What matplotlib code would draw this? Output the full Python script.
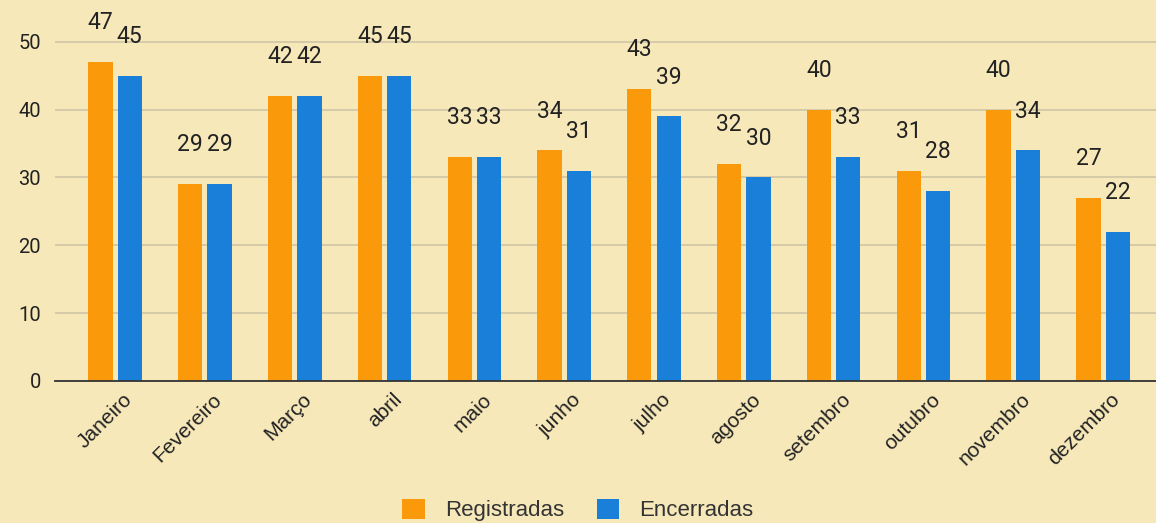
import numpy as np
import matplotlib.pyplot as plt
import matplotlib.transforms as mtransforms

# Data
meses = ["Janeiro", "Fevereiro", "Março", "abril", "maio", "junho", "julho",
         "agosto", "setembro", "outubro", "novembro", "dezembro"]
registradas = [47, 29, 42, 45, 33, 34, 43, 32, 40, 31, 40, 27]
encerradas = [45, 29, 42, 45, 33, 31, 39, 30, 33, 28, 34, 22]

bg = "#F7E8BA"
laranja = "#FA9A0A"
azul = "#1A7FD9"

plt.rcParams["font.family"] = ["Roboto", "DejaVu Sans"]

fig = plt.figure(figsize=(11.56, 5.23), dpi=100, facecolor=bg)
ax = fig.add_axes([55 / 1156, 1 - 381 / 523, 1 - 55 / 1156, (381 - 20) / 523])
ax.set_facecolor(bg)

x = np.arange(len(meses))
w = 0.27
off = 0.163
b1 = ax.bar(x - off, registradas, w, color=laranja, label="Registradas", zorder=3)
b2 = ax.bar(x + off, encerradas, w, color=azul, label="Encerradas", zorder=3)

for bars, vals in [(b1, registradas), (b2, encerradas)]:
    for b, v in zip(bars, vals):
        ax.annotate(str(v), (b.get_x() + b.get_width() / 2, v),
                    xytext=(0, 20), textcoords="offset points",
                    ha="center", va="bottom", fontsize=16.5, color="#222222")

ax.set_xlim(-0.67, 11.59)
ax.set_ylim(0, 53.2)
ax.set_yticks([0, 10, 20, 30, 40, 50])
ax.tick_params(axis="y", length=0, labelsize=14.5, labelcolor="#222222", pad=10)
ax.tick_params(axis="x", length=0, labelsize=15, labelcolor="#222222", pad=4)
ax.set_xticks(x)
ax.set_xticklabels(meses, rotation=45, ha="right", va="center",
                   rotation_mode="anchor", family=["Liberation Sans", "DejaVu Sans"])
shift = mtransforms.ScaledTranslation(14 / 100, -10 / 100, fig.dpi_scale_trans)
for lab in ax.get_xticklabels():
    lab.set_transform(lab.get_transform() + shift)
ax.grid(axis="y", color="#CFC6A6", linewidth=1.2, zorder=0)
for s in ["top", "right", "left"]:
    ax.spines[s].set_visible(False)
ax.spines["bottom"].set_color("#333333")
ax.spines["bottom"].set_linewidth(1.3)
ax.spines["bottom"].set_zorder(4)

fig.legend(handles=[b1, b2], labels=["Registradas", "Encerradas"],
           loc="lower center", bbox_to_anchor=(0.5, -0.035), ncol=2,
           frameon=False, handlelength=1.0, handleheight=1.0,
           columnspacing=1.5, handletextpad=0.9, labelcolor="#333333",
           prop={"family": ["Liberation Sans", "DejaVu Sans"], "size": 16})

plt.savefig("out.png", dpi=100, facecolor=bg)
